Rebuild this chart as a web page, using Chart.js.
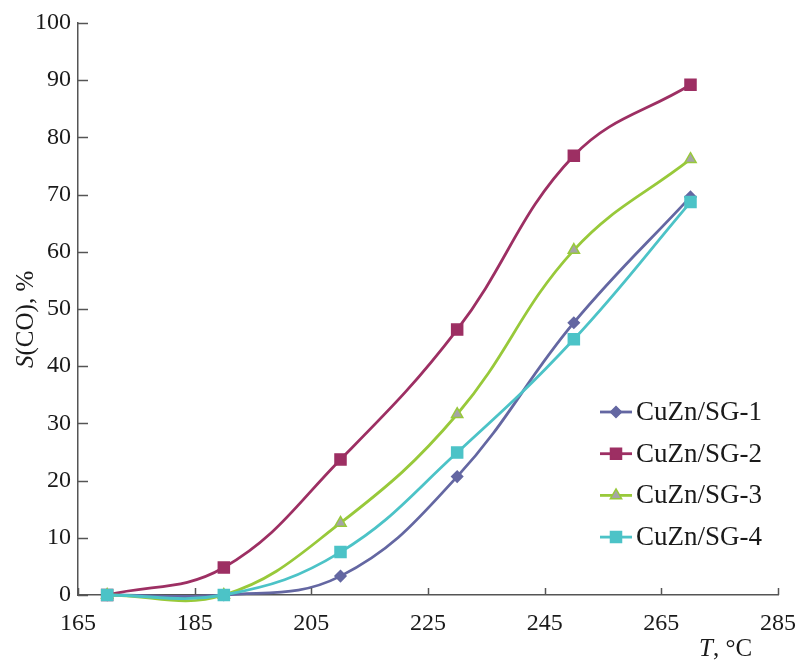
<!DOCTYPE html>
<html>
<head>
<meta charset="utf-8">
<script src="https://cdn.jsdelivr.net/npm/chart.js@4/dist/chart.umd.min.js"></script>
<style>
  body { margin: 0; background: #fff; }
  canvas { display: block; }
</style>
</head>
<body>
<canvas id="selectivity" width="801" height="660"></canvas>
<script>
'use strict';

// temperatures, °C
const temps = [170, 190, 210, 230, 250, 270];

// S(CO), % for each catalyst
const sg1 = [0, 0, 3.3, 20.7, 47.6, 69.6];
const sg2 = [0, 4.8, 23.7, 46.4, 76.8, 89.2];
const sg3 = [0, 0, 12.6, 31.6, 60.3, 76.2];
const sg4 = [0, 0, 7.5, 24.9, 44.7, 68.7];

const seriesNames = ['CuZn/SG-1', 'CuZn/SG-2', 'CuZn/SG-3', 'CuZn/SG-4'];

const xTicks = [165, 185, 205, 225, 245, 265, 285];

const serif = "'Liberation Serif', 'Times New Roman', serif";
const axisColor = '#555555';
const textColor = '#1a1a1a';

const toPoints = function (values) {
    return values.map(function (v, i) {
        return {x: temps[i], y: v};
    });
};

const makeDataset = function (label, values, color, style, radius, fill, order) {
    return {
        label: label,
        data: toPoints(values),
        borderColor: color,
        backgroundColor: fill || color,
        pointBackgroundColor: fill || color,
        pointBorderColor: color,
        pointBorderWidth: 1.5,
        pointStyle: style,
        pointRadius: radius,
        borderWidth: 2.8,
        tension: 0.4,
        capBezierPoints: false,
        showLine: true,
        clip: false,
        order: order
    };
};

// inside tick marks, axis titles and the legend
const decorations = {
    id: 'decorations',
    afterDraw: function (chart) {
        const ctx = chart.ctx;
        const xs = chart.scales.x;
        const ys = chart.scales.y;
        const area = chart.chartArea;
        ctx.save();
        ctx.strokeStyle = axisColor;
        ctx.lineWidth = 1.5;
        ys.ticks.forEach(function (t) {
            let py = Math.round(ys.getPixelForValue(t.value)) + 0.5;
            ctx.beginPath();
            ctx.moveTo(area.left, py);
            ctx.lineTo(area.left + 10, py);
            ctx.stroke();
        });
        xs.ticks.forEach(function (t) {
            let px = Math.round(xs.getPixelForValue(t.value)) + 0.5;
            ctx.beginPath();
            ctx.moveTo(px, area.bottom);
            ctx.lineTo(px, area.bottom - 7);
            ctx.stroke();
        });

        // x title: "T, °C"
        ctx.fillStyle = textColor;
        ctx.textBaseline = 'alphabetic';
        ctx.textAlign = 'left';
        ctx.font = 'italic 25px ' + serif;
        let tx = 699;
        ctx.fillText('T', tx, 656);
        tx += ctx.measureText('T').width;
        ctx.font = '25px ' + serif;
        ctx.fillText(', °C', tx, 656);

        // y title: "S(CO), %"
        ctx.save();
        ctx.translate(33, 368);
        ctx.rotate(-Math.PI / 2);
        ctx.font = 'italic 25px ' + serif;
        ctx.fillText('S', 0, 0);
        let sw = ctx.measureText('S').width;
        ctx.font = '25px ' + serif;
        ctx.fillText('(CO), %', sw, 0);
        ctx.restore();

        // legend
        chart.data.datasets.forEach(function (ds, i) {
            let ly = 412 + i * 41.7;
            ctx.strokeStyle = ds.borderColor;
            ctx.lineWidth = ds.borderWidth;
            ctx.beginPath();
            ctx.moveTo(600, ly);
            ctx.lineTo(632, ly);
            ctx.stroke();
            ctx.fillStyle = ds.pointBackgroundColor;
            ctx.strokeStyle = ds.pointBorderColor;
            ctx.lineWidth = ds.pointBorderWidth;
            Chart.helpers.drawPoint(ctx, {
                pointStyle: ds.pointStyle,
                radius: ds.pointRadius,
                rotation: 0,
                borderWidth: ds.pointBorderWidth
            }, 616, ly);
            ctx.fillStyle = textColor;
            ctx.font = '27px ' + serif;
            ctx.textBaseline = 'middle';
            ctx.fillText(seriesNames[i], 636, ly + 1);
        });
        ctx.restore();
    }
};

const ctx = document.getElementById('selectivity');

new Chart(ctx, {
    type: 'scatter',
    data: {
        datasets: [
            makeDataset(seriesNames[0], sg1, '#6467a2', 'rectRot', 5.5, null, 4),
            makeDataset(seriesNames[1], sg2, '#9d2f63', 'rect', 7.8, null, 3),
            makeDataset(seriesNames[2], sg3, '#98c93a', 'triangle', 6.5, '#a5a5a5', 2),
            makeDataset(seriesNames[3], sg4, '#4cc3c7', 'rect', 7.8, null, 1)
        ]
    },
    options: {
        responsive: false,
        animation: false,
        layout: {
            padding: {left: 0, top: 23, right: 23, bottom: 0}
        },
        plugins: {
            legend: {display: false},
            tooltip: {enabled: false}
        },
        scales: {
            x: {
                type: 'linear',
                min: 165,
                max: 285,
                afterBuildTicks: function (scale) {
                    scale.ticks = xTicks.map(function (v) {
                        return {value: v};
                    });
                },
                afterFit: function (scale) {
                    scale.height = 65;
                    scale.paddingLeft = 0;
                    scale.paddingRight = 0;
                },
                grid: {display: false, drawTicks: false},
                border: {color: axisColor, width: 1.5},
                ticks: {
                    padding: 14,
                    color: textColor,
                    font: {family: serif, size: 24}
                }
            },
            y: {
                min: 0,
                max: 100,
                afterFit: function (scale) {
                    scale.width = 78;
                    scale.paddingTop = 0;
                    scale.paddingBottom = 0;
                },
                grid: {display: false, drawTicks: false},
                border: {color: axisColor, width: 1.5},
                ticks: {
                    stepSize: 10,
                    padding: 7,
                    color: textColor,
                    font: {family: serif, size: 24}
                }
            }
        }
    },
    plugins: [decorations]
});
</script>
</body>
</html>
